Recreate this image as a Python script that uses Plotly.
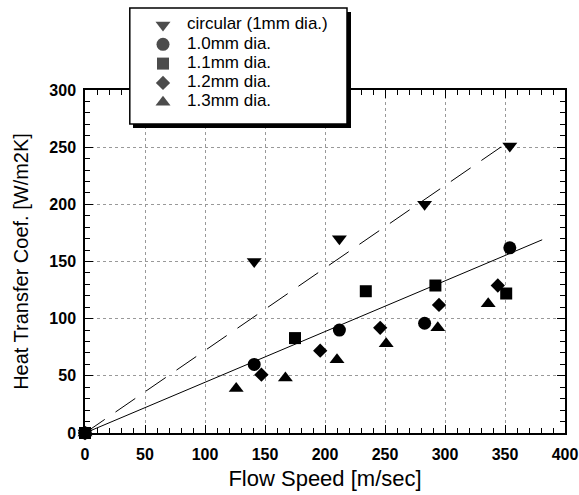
import plotly.graph_objects as go

# Data
circ_x = [0, 141, 212, 283, 354]
circ_y = [0, 150, 170, 200, 251]
d10_x = [0, 141, 212, 283, 354]
d10_y = [0, 60, 90, 96, 162]
d11_x = [0, 175, 234, 292, 351]
d11_y = [0, 83, 124, 129, 122]
d12_x = [0, 147, 196, 246, 295, 344]
d12_y = [0, 51, 72, 92, 112, 129]
d13_x = [0, 126, 167, 210, 251, 294, 336]
d13_y = [0, 39, 48, 64, 78, 92, 113]

# fit lines (endpoints)
fit_circ_x = [0, 352]
fit_circ_y = [0, 254]
fit_rect_x = [0, 381]
fit_rect_y = [0, 169]

series_names = ["circular (1mm dia.)", "1.0mm dia.", "1.1mm dia.", "1.2mm dia.", "1.3mm dia."]
series_x = [circ_x, d10_x, d11_x, d12_x, d13_x]
series_y = [circ_y, d10_y, d11_y, d12_y, d13_y]

# styling
symbols = ["triangle-down", "circle", "square", "diamond", "triangle-up"]
sizes = [13, 13, 12, 11, 13]
FONT = "Liberation Sans, Arial, Helvetica"

W, H = 579, 495
ML, MR, MT, MB = 85, 14, 0, 62
PLOT_TOP = 90          # pixel row of the top of the data area
plot_w = W - ML - MR
plot_h = H - MT - MB


def fx(p):   # pixel column -> x-domain fraction
    return (p - ML) / plot_w


def fy(p):   # pixel row -> y-domain fraction
    return (H - MB - p) / plot_h


fig = go.Figure()
fig.add_trace(go.Scatter(x=fit_circ_x, y=fit_circ_y, mode="lines", showlegend=False,
                         line=dict(color="black", width=1, dash="24px,13px"), hoverinfo="skip"))
fig.add_trace(go.Scatter(x=fit_rect_x, y=fit_rect_y, mode="lines", showlegend=False,
                         line=dict(color="black", width=1), hoverinfo="skip"))
for name, xs, ys, sym, size in zip(series_names, series_x, series_y, symbols, sizes):
    fig.add_trace(go.Scatter(x=xs, y=ys, mode="markers", name=name, cliponaxis=False,
                             showlegend=False,
                             marker=dict(symbol=sym, size=size, color="black", line=dict(width=0))))

# ---- legend box (drawn in its own pixel-scaled subplot) ----
LBX0, LBX1, LBY0, LBY1 = 129, 352, 7, 129   # legend subplot extent incl. shadow (px)
row0, row_gap = 25, 19.3
rows = [row0 + i * row_gap for i in range(len(series_names))]
mark_col, text_col = 163, 187

fig.add_shape(type="rect", xref="x2", yref="y2", x0=133, x1=351, y0=12, y1=128,
              fillcolor="black", line=dict(width=0), layer="below")
fig.add_shape(type="rect", xref="x2", yref="y2", x0=129.8, x1=347, y0=8, y1=124,
              fillcolor="white", line=dict(color="black", width=1.5), layer="below")
fig.add_trace(go.Scatter(x=[mark_col] * len(rows), y=rows, xaxis="x2", yaxis="y2",
                         mode="markers", showlegend=False, cliponaxis=False, hoverinfo="skip",
                         marker=dict(symbol=symbols, size=sizes, color="black", line=dict(width=0))))
fig.add_trace(go.Scatter(x=[text_col] * len(rows), y=rows, xaxis="x2", yaxis="y2",
                         mode="text", text=series_names, textposition="middle right",
                         showlegend=False, cliponaxis=False, hoverinfo="skip",
                         textfont=dict(family=FONT, size=17, color="black")))

axis_common = dict(
    showline=True, linecolor="black", linewidth=1.5, mirror="allticks",
    ticks="inside", ticklen=8, tickwidth=1, tickcolor="black",
    showgrid=True, gridcolor="#999", griddash="dot", gridwidth=1,
    zeroline=False, automargin=False,
    tickfont=dict(family=FONT, size=16, color="black", weight=700),
    minor=dict(ticks="inside", ticklen=5, tickwidth=1, tickcolor="black", dtick=10, showgrid=False),
)

fig.update_layout(
    width=W, height=H,
    margin=dict(l=ML, r=MR, t=MT, b=MB),
    plot_bgcolor="rgba(0,0,0,0)", paper_bgcolor="white",
    showlegend=False,
    xaxis=dict(range=[0, 400], dtick=50, domain=[0, 1], ticklabelstandoff=6, **axis_common,
               title=dict(text="Flow Speed [m/sec]", standoff=9,
                          font=dict(family=FONT, size=22, color="black"))),
    yaxis=dict(range=[0, 300], dtick=50, domain=[0, fy(PLOT_TOP)], ticklabelstandoff=4, **axis_common,
               title=dict(text="Heat Transfer Coef. [W/m2K]", standoff=15,
                          font=dict(family=FONT, size=20, color="black"))),
    xaxis2=dict(domain=[fx(LBX0), fx(LBX1)], range=[LBX0, LBX1], anchor="y2",
                visible=False, fixedrange=True),
    yaxis2=dict(domain=[fy(LBY1), fy(LBY0)], range=[LBY1, LBY0], anchor="x2",
                visible=False, fixedrange=True),
)

fig.write_html("out.html", config={"displayModeBar": False},
               post_script="document.body.style.margin='0px';")
